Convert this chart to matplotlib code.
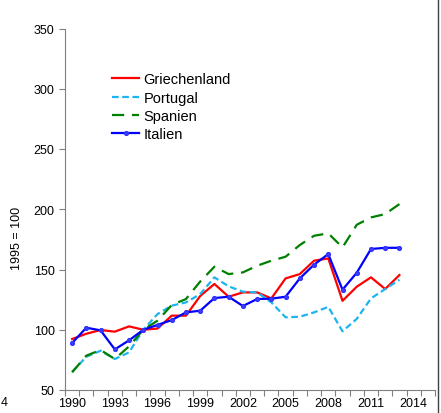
import matplotlib
matplotlib.use("Agg")
import matplotlib.pyplot as plt
from matplotlib.lines import Line2D

plt.rcParams['font.family'] = ['Liberation Sans', 'DejaVu Sans']

years = list(range(1990, 2014))
all_years = list(range(1990, 2016))
tick_years = [1990, 1993, 1996, 1999, 2002, 2005, 2008, 2011, 2014]

griechenland = [92.3, 96.7, 99.8, 98.4, 102.8, 100, 101, 111.7, 111.7, 128, 138, 127.4,
                131, 131, 126, 142.6, 146.2, 157.3, 159.2, 124, 135.7, 143.5, 133.8, 145.4]
portugal = [65, 77.6, 82.6, 75.7, 81.2, 100, 113, 120, 122.7, 129.6, 143.5, 136,
            131.6, 131, 122.7, 110.3, 110.8, 114.4, 119, 98.7, 109, 126, 133.8, 141.5]
spanien = [64.7, 78.5, 83.2, 75.7, 86.2, 100, 107.5, 120.5, 125.5, 140, 152.3, 146.2,
           147.6, 153.1, 157.3, 160.6, 170.3, 178, 180, 168.3, 187.1, 193.2, 196, 204.3]
italien = [89, 101.7, 99.5, 83.7, 91.2, 100, 104, 108, 114.4, 115.8, 126.3, 127.4,
           119.7, 125.5, 125.8, 127.4, 142.6, 154, 162.8, 133.2, 147.3, 167, 168, 168]

fig = plt.figure(figsize=(4.41, 4.14), dpi=100)
ax = fig.add_axes([65/441, (414-391)/414, (435-65)/441, (391-29.5)/414])

x = [all_years.index(y) for y in years]
ax.plot(x, griechenland, color='#FF0000', lw=1.6, label='Griechenland')
ax.plot(x, portugal, color='#1EB4F0', lw=1.6, dashes=(3, 1.6), label='Portugal')
ax.plot(x, spanien, color='#008000', lw=1.6, dashes=(5.5, 3.5), label='Spanien')
ax.plot(x, italien, color='#0000FF', lw=1.6, marker='o', markersize=2.7,
        markerfacecolor='#4040FF', markeredgecolor='#3030FF', label='Italien')

ax.set_xlim(-0.5, len(all_years) - 0.5)
ax.set_ylim(50, 350)
ax.set_yticks(range(50, 351, 50))
ax.set_xticks([i - 0.5 for i in range(len(all_years) + 1)])
ax.set_xticklabels([])
ax.set_xticks([all_years.index(y) for y in tick_years], minor=True)
ax.set_xticklabels([str(y) for y in tick_years], minor=True)
ax.tick_params(axis='x', which='major', length=4, color='#808080', width=0.8)
ax.tick_params(axis='x', which='minor', length=0, labelsize=9, pad=5)
ax.tick_params(axis='y', length=4, color='#808080', width=0.8, labelsize=9)

for s in ['top', 'right']:
    ax.spines[s].set_visible(False)
for s in ['left', 'bottom']:
    ax.spines[s].set_color('#808080')
    ax.spines[s].set_linewidth(0.8)

fig.text(17/441, (414-238)/414, '1995 = 100', rotation=90, fontsize=9,
         ha='center', va='center')
fig.text(1/441, (414-403)/414, '4', fontsize=9, ha='left', va='center')

fig.legend(loc='upper left', bbox_to_anchor=(105/441, (414-66)/414), frameon=False,
           fontsize=10.5, borderpad=0, handlelength=1.85, handletextpad=0.3,
           labelspacing=0.3)

fig.add_artist(Line2D([437.5/441, 437.5/441], [0, 1], color='#404040', lw=1))

fig.savefig('out.png', dpi=100)
